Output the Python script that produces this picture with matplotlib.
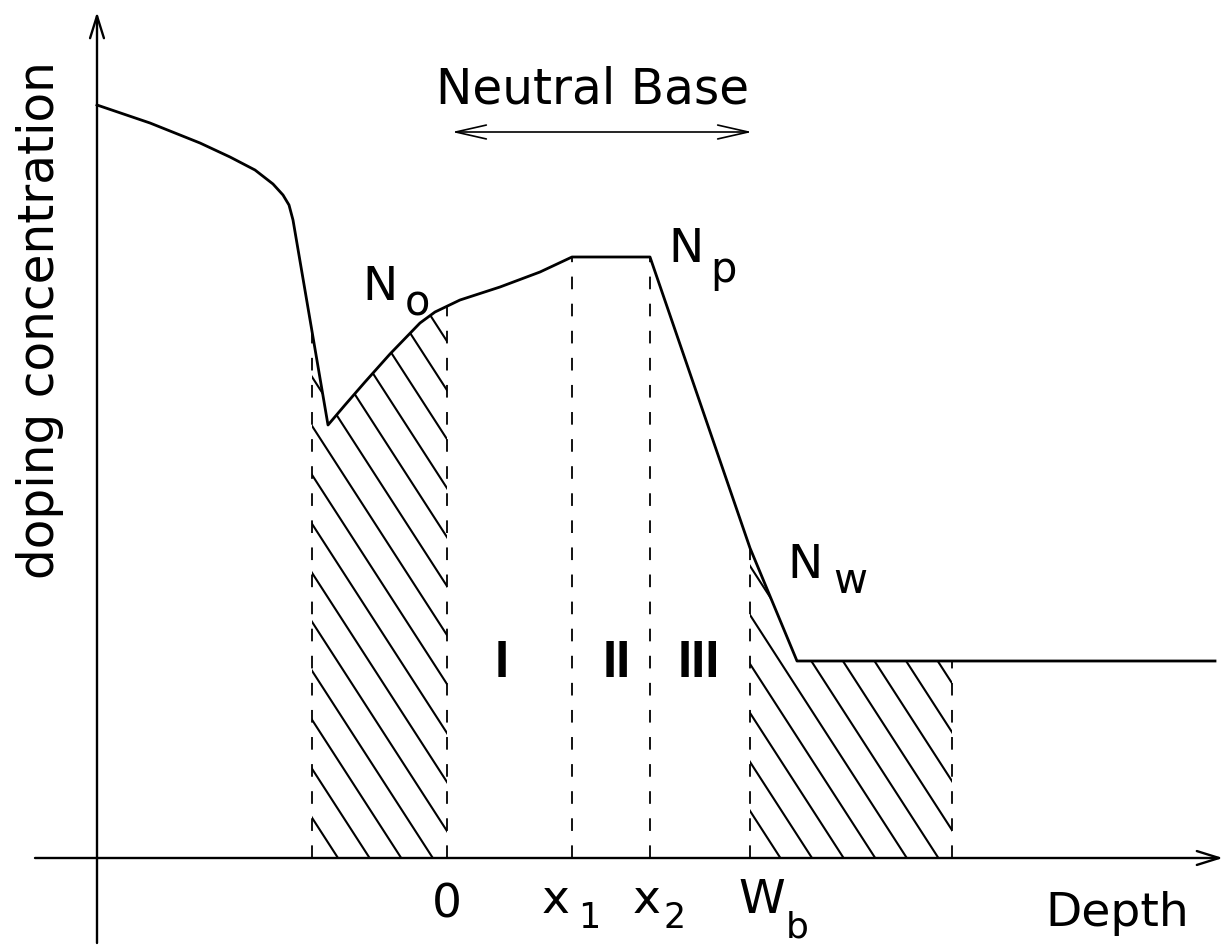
import numpy as np
import matplotlib
matplotlib.use('Agg')
import matplotlib.pyplot as plt
from matplotlib.patches import Polygon

# doping profile, depth vs concentration (pixel-like units, origin at axes crossing)
depth = np.array([0, 53, 103, 133, 158, 176, 186, 192, 196, 231, 248, 268, 293,
                  323, 338, 363, 403, 443, 475, 553, 653, 700, 1118])
conc = np.array([753, 735, 715, 701, 688, 674, 663, 653, 638, 433, 453, 476, 504,
                 535, 546, 558, 571, 586, 601, 601, 310, 197, 197])

# boundary positions on the depth axis
x_left = 215     # start of emitter-side depletion
x_zero = 350     # 0
x_one = 475      # x1
x_two = 553      # x2
x_wb = 653       # Wb
x_right = 855    # end of collector-side depletion

hatch_start = 241
hatch_step = 31.6
hatch_slope = 1.55

fig = plt.figure(figsize=(12.25, 9.48), dpi=100)
ax = fig.add_axes([0, 0, 1, 1])
ax.set_xlim(-97, 1128)
ax.set_ylim(-90, 858)
ax.axis('off')

# axes with arrows
ax.annotate('', xy=(1126, 0), xytext=(-62, 0),
            arrowprops=dict(arrowstyle='->,head_length=0.8,head_width=0.25',
                            lw=1.7, color='black', mutation_scale=20,
                            shrinkA=0, shrinkB=0))
ax.annotate('', xy=(0, 846), xytext=(0, -85),
            arrowprops=dict(arrowstyle='->,head_length=0.8,head_width=0.25',
                            lw=1.7, color='black', mutation_scale=20,
                            shrinkA=0, shrinkB=0))

# profile
ax.plot(depth, conc, color='black', lw=2.0, solid_joinstyle='round')


def region(a, b):
    inside = (depth > a) & (depth < b)
    xs = np.concatenate([[a], depth[inside], [b]])
    ys = np.interp(xs, depth, conc)
    verts = [(a, 0)] + list(zip(xs, ys)) + [(b, 0)]
    return Polygon(verts, closed=True, facecolor='none', edgecolor='none')


# hatched depletion regions
for a, b in [(x_left, x_zero), (x_wb, x_right)]:
    poly = region(a, b)
    ax.add_patch(poly)
    k0 = int(np.floor((a - hatch_start) / hatch_step)) - 1
    k1 = int(np.ceil((b + 900 / hatch_slope - hatch_start) / hatch_step)) + 1
    for k in range(k0, k1):
        xb = hatch_start + k * hatch_step
        xx = np.array([xb - 900 / hatch_slope, xb])
        yy = -hatch_slope * (xx - xb)
        ln, = ax.plot(xx, yy, color='black', lw=1.5)
        ln.set_clip_path(poly)

# dashed verticals
for xv in [x_left, x_zero, x_one, x_two, x_wb, x_right]:
    top = np.interp(xv, depth, conc)
    ax.plot([xv, xv], [0, top], color='black', lw=1.3,
            linestyle=(0, (7, 8)))

fs = 34
ax.text(496, 755, 'Neutral Base', ha='center', va='baseline', fontsize=35)
ax.annotate('', xy=(355, 726), xytext=(655, 726),
            arrowprops=dict(arrowstyle='<->,head_length=1.1,head_width=0.25',
                            lw=1.2, color='black', mutation_scale=20,
                            shrinkA=0, shrinkB=0))

ax.text(-57, 538, 'doping concentration', rotation=90, ha='center',
        va='center', fontsize=35)
ax.text(948, -68, 'Depth', ha='left', va='baseline', fontsize=fs)

ax.text(x_zero, -59, '0', ha='center', va='baseline', fontsize=fs)
ax.text(445, -55, 'x', ha='left', va='baseline', fontsize=fs)
ax.text(481, -70, '1', ha='left', va='baseline', fontsize=25)
ax.text(536, -55, 'x', ha='left', va='baseline', fontsize=fs)
ax.text(566, -70, '2', ha='left', va='baseline', fontsize=25)
ax.text(641, -55, 'W', ha='left', va='baseline', fontsize=fs)
ax.text(689, -80, 'b', ha='left', va='baseline', fontsize=26)

ax.text(265, 558, 'N', ha='left', va='baseline', fontsize=fs)
ax.text(308, 543, 'o', ha='left', va='baseline', fontsize=30)
ax.text(571, 596, 'N', ha='left', va='baseline', fontsize=fs)
ax.text(613, 576, 'p', ha='left', va='baseline', fontsize=30)
ax.text(690, 280, 'N', ha='left', va='baseline', fontsize=fs)
ax.text(736, 265, 'w', ha='left', va='baseline', fontsize=30)

for label, xc in [('I', 405), ('II', 520), ('III', 602)]:
    ax.text(xc, 181, label, ha='center', va='baseline', fontsize=37,
            fontweight='bold', family='Liberation Sans')

fig.savefig('out.png', dpi=100)
